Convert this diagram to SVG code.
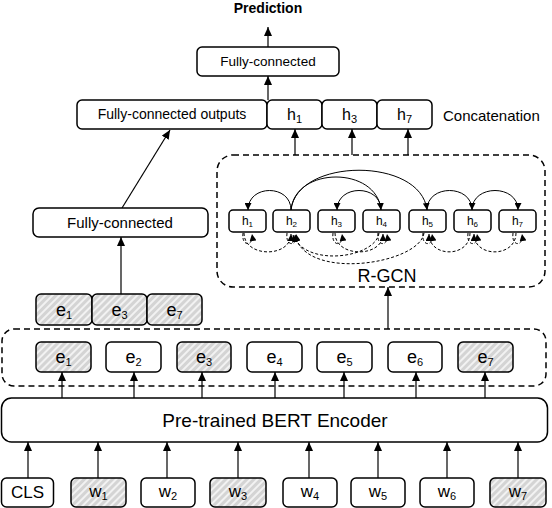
<svg xmlns="http://www.w3.org/2000/svg" width="552" height="508" viewBox="0 0 552 508">
<defs>
<pattern id="hatch" width="5" height="5" patternUnits="userSpaceOnUse" patternTransform="rotate(45)">
<rect width="5" height="5" fill="#d4d4d4"/>
<rect width="2" height="5" fill="#f2f2f2"/>
</pattern>
<marker id="ah" markerUnits="userSpaceOnUse" markerWidth="10" markerHeight="8" refX="9" refY="4" orient="auto">
<path d="M0,0 L9,4 L0,8 z" fill="#000"/>
</marker>
<marker id="sah" markerUnits="userSpaceOnUse" markerWidth="8" markerHeight="7" refX="7" refY="3.5" orient="auto">
<path d="M0,0 L7,3.5 L0,7 z" fill="#000"/>
</marker>
</defs>
<style>
text{font-family:"Liberation Sans",Arial,sans-serif;fill:#000;text-anchor:middle}
.box{fill:#fff;stroke:#000;stroke-width:1.5}
.hat{fill:url(#hatch);stroke:#000;stroke-width:1.5}
.dbox{fill:none;stroke:#000;stroke-width:1.5;stroke-dasharray:6 4}
.conn{fill:none;stroke:#000;stroke-width:1.2;marker-end:url(#ah)}
.arc{fill:none;stroke:#000;stroke-width:1;marker-end:url(#sah)}
.darc{fill:none;stroke:#000;stroke-width:1;stroke-dasharray:3 2;marker-end:url(#sah)}
.ev{font-size:18px}
.wv{font-size:17px}
.sub{font-size:11px}
.hs{font-size:12px}
.hsub{font-size:8px}
</style>

<g id="connectors">
<line class="conn" x1="268" y1="47" x2="268" y2="27"/>
<line class="conn" x1="268" y1="100" x2="268" y2="76"/>
<line class="conn" x1="122" y1="208" x2="170" y2="130"/>
<line class="conn" x1="121" y1="294" x2="121" y2="237"/>
<line class="conn" x1="295" y1="155" x2="295" y2="129"/>
<line class="conn" x1="352" y1="155" x2="352" y2="129"/>
<line class="conn" x1="408" y1="155" x2="408" y2="129"/>
<line class="conn" x1="388" y1="329" x2="388" y2="287"/>
<line class="conn" x1="62" y1="398" x2="62" y2="372"/>
<line class="conn" x1="134" y1="398" x2="134" y2="372"/>
<line class="conn" x1="202" y1="398" x2="202" y2="372"/>
<line class="conn" x1="275" y1="398" x2="275" y2="372"/>
<line class="conn" x1="344" y1="398" x2="344" y2="372"/>
<line class="conn" x1="416" y1="398" x2="416" y2="372"/>
<line class="conn" x1="485" y1="398" x2="485" y2="372"/>
<line class="conn" x1="28" y1="478" x2="28" y2="442"/>
<line class="conn" x1="98" y1="478" x2="98" y2="442"/>
<line class="conn" x1="167" y1="478" x2="167" y2="442"/>
<line class="conn" x1="238" y1="478" x2="238" y2="442"/>
<line class="conn" x1="309" y1="478" x2="309" y2="442"/>
<line class="conn" x1="378" y1="478" x2="378" y2="442"/>
<line class="conn" x1="447" y1="478" x2="447" y2="442"/>
<line class="conn" x1="518" y1="478" x2="518" y2="442"/>
<!-- R-GCN edges -->
<path class="arc" d="M291,210 C291,184 248,184 248,210"/>
<path class="arc" d="M291,210 C295,166 377,166 381,210"/>
<path class="arc" d="M291,210 C297,157 421,157 427,210"/>
<path class="arc" d="M381,210 C381,184 337,184 337,210"/>
<path class="arc" d="M427,210 C427,184 472,184 472,210"/>
<path class="arc" d="M472,210 C472,184 518,184 518,210"/>
<path class="darc" d="M244,233 C244,258 291,258 291,234"/>
<path class="darc" d="M379,233 C376,258 305,268 293,235"/>
<path class="darc" d="M424,233 C420,264 305,282 295,235"/>
<path class="darc" d="M335,233 C335,258 383,258 383,234"/>
<path class="darc" d="M470,233 C470,258 429,258 429,234"/>
<path class="darc" d="M516,233 C516,258 474,258 474,234"/>
<path class="darc" d="M243,233 C241,247 254,247 252,234"/>
<path class="darc" d="M287,233 C285,247 298,247 296,234"/>
<path class="darc" d="M333,233 C331,247 344,247 342,234"/>
<path class="darc" d="M378,233 C376,247 389,247 387,234"/>
<path class="darc" d="M423,233 C421,247 434,247 432,234"/>
<path class="darc" d="M468,233 C466,247 479,247 477,234"/>
<path class="darc" d="M513,233 C511,247 524,247 522,234"/>
</g>

<text x="268" y="13" style="font-size:14px;font-weight:bold">Prediction</text>

<g id="fc-top">
<rect class="box" x="197" y="47" width="142" height="29" rx="5"/>
<text x="268" y="66" style="font-size:13.5px">Fully-connected</text>
</g>

<g id="fc-outputs">
<rect class="box" x="77" y="100" width="190" height="29" rx="5"/>
<text x="172" y="119" style="font-size:14px">Fully-connected outputs</text>
</g>
<g id="cat-h1">
<rect class="box" x="267" y="100" width="55" height="29" rx="5"/>
<text x="294.5" y="120" style="font-size:16px">h<tspan class="sub" dy="3">1</tspan></text>
</g>
<g id="cat-h3">
<rect class="box" x="322" y="100" width="55" height="29" rx="5"/>
<text x="349.5" y="120" style="font-size:16px">h<tspan class="sub" dy="3">3</tspan></text>
</g>
<g id="cat-h7">
<rect class="box" x="377" y="100" width="55" height="29" rx="5"/>
<text x="404.5" y="120" style="font-size:16px">h<tspan class="sub" dy="3">7</tspan></text>
</g>
<text x="443" y="121" style="font-size:15px;text-anchor:start">Concatenation</text>

<g id="fc-left">
<rect class="box" x="33" y="208" width="175" height="29" rx="6"/>
<text x="120" y="228" style="font-size:15px">Fully-connected</text>
</g>

<g id="rgcn">
<rect class="dbox" x="217" y="155" width="328" height="132" rx="16"/>
<text x="387" y="282" style="font-size:18px">R-GCN</text>
<g id="g-h1"><rect class="box" x="229" y="210" width="37" height="22" rx="4"/><text x="247.5" y="225" class="hs">h<tspan class="hsub" dy="2">1</tspan></text></g>
<g id="g-h2"><rect class="box" x="273" y="210" width="37" height="22" rx="4"/><text x="291.5" y="225" class="hs">h<tspan class="hsub" dy="2">2</tspan></text></g>
<g id="g-h3"><rect class="box" x="318" y="210" width="37" height="22" rx="4"/><text x="336.5" y="225" class="hs">h<tspan class="hsub" dy="2">3</tspan></text></g>
<g id="g-h4"><rect class="box" x="363" y="210" width="37" height="22" rx="4"/><text x="381.5" y="225" class="hs">h<tspan class="hsub" dy="2">4</tspan></text></g>
<g id="g-h5"><rect class="box" x="409" y="210" width="37" height="22" rx="4"/><text x="427.5" y="225" class="hs">h<tspan class="hsub" dy="2">5</tspan></text></g>
<g id="g-h6"><rect class="box" x="454" y="210" width="37" height="22" rx="4"/><text x="472.5" y="225" class="hs">h<tspan class="hsub" dy="2">6</tspan></text></g>
<g id="g-h7"><rect class="box" x="499" y="210" width="37" height="22" rx="4"/><text x="517.5" y="225" class="hs">h<tspan class="hsub" dy="2">7</tspan></text></g>
</g>

<g id="sel-e1"><rect class="hat" x="36" y="294" width="56" height="31" rx="5"/><text x="64" y="316" class="ev">e<tspan class="sub" dy="3">1</tspan></text></g>
<g id="sel-e3"><rect class="hat" x="92" y="294" width="55" height="31" rx="5"/><text x="119.5" y="316" class="ev">e<tspan class="sub" dy="3">3</tspan></text></g>
<g id="sel-e7"><rect class="hat" x="147" y="294" width="55" height="31" rx="5"/><text x="174.5" y="316" class="ev">e<tspan class="sub" dy="3">7</tspan></text></g>

<g id="embeddings">
<rect class="dbox" x="2" y="329" width="544" height="57" rx="12"/>
<g id="e1"><rect class="hat" x="36" y="342" width="55" height="30" rx="5"/><text x="63.5" y="363" class="ev">e<tspan class="sub" dy="3">1</tspan></text></g>
<g id="e2"><rect class="box" x="106" y="342" width="55" height="30" rx="5"/><text x="133.5" y="363" class="ev">e<tspan class="sub" dy="3">2</tspan></text></g>
<g id="e3"><rect class="hat" x="177" y="342" width="54" height="30" rx="5"/><text x="204" y="363" class="ev">e<tspan class="sub" dy="3">3</tspan></text></g>
<g id="e4"><rect class="box" x="247" y="342" width="55" height="30" rx="5"/><text x="274.5" y="363" class="ev">e<tspan class="sub" dy="3">4</tspan></text></g>
<g id="e5"><rect class="box" x="317" y="342" width="55" height="30" rx="5"/><text x="344.5" y="363" class="ev">e<tspan class="sub" dy="3">5</tspan></text></g>
<g id="e6"><rect class="box" x="388" y="342" width="54" height="30" rx="5"/><text x="415" y="363" class="ev">e<tspan class="sub" dy="3">6</tspan></text></g>
<g id="e7"><rect class="hat" x="458" y="342" width="55" height="30" rx="5"/><text x="485.5" y="363" class="ev">e<tspan class="sub" dy="3">7</tspan></text></g>
</g>

<g id="bert">
<rect class="box" x="1.5" y="398" width="546" height="44" rx="10"/>
<text x="275" y="427" style="font-size:19px">Pre-trained BERT Encoder</text>
</g>

<g id="w-cls"><rect class="box" x="1.5" y="478" width="52" height="29" rx="5"/><text x="27.5" y="498" class="wv">CLS</text></g>
<g id="w1"><rect class="hat" x="71" y="478" width="55" height="29" rx="5"/><text x="98.5" y="497" class="wv">w<tspan class="sub" dy="3">1</tspan></text></g>
<g id="w2"><rect class="box" x="141" y="478" width="54" height="29" rx="5"/><text x="168" y="497" class="wv">w<tspan class="sub" dy="3">2</tspan></text></g>
<g id="w3"><rect class="hat" x="210" y="478" width="56" height="29" rx="5"/><text x="238" y="497" class="wv">w<tspan class="sub" dy="3">3</tspan></text></g>
<g id="w4"><rect class="box" x="283" y="478" width="54" height="29" rx="5"/><text x="310" y="497" class="wv">w<tspan class="sub" dy="3">4</tspan></text></g>
<g id="w5"><rect class="box" x="351" y="478" width="54" height="29" rx="5"/><text x="378" y="497" class="wv">w<tspan class="sub" dy="3">5</tspan></text></g>
<g id="w6"><rect class="box" x="420" y="478" width="54" height="29" rx="5"/><text x="447" y="497" class="wv">w<tspan class="sub" dy="3">6</tspan></text></g>
<g id="w7"><rect class="hat" x="490" y="478" width="56" height="29" rx="5"/><text x="518" y="497" class="wv">w<tspan class="sub" dy="3">7</tspan></text></g>
</svg>
